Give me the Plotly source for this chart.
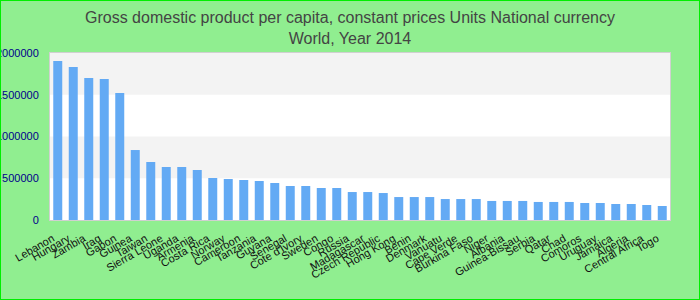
import plotly.graph_objects as go

countries = ["Lebanon", "Hungary", "Zambia", "Iraq", "Gabon", "Guinea", "Taiwan", "Sierra Leone",
             "Uganda", "Armenia", "Costa Rica", "Norway", "Cameroon", "Tanzania", "Guyana", "Senegal",
             "Cote d'Ivory", "Sweden", "Congo", "Russia", "Madagascar", "Czech Republic", "Hong Kong",
             "Benin", "Denmark", "Vanuatu", "Cape Verde", "Burkina Faso", "Niger", "Albania",
             "Guinea-Bissau", "Serbia", "Qatar", "Chad", "Comoros", "Uruguay", "Jamaica", "Algeria",
             "Central Africa", "Togo"]
values = [1904000, 1832000, 1701000, 1689000, 1521000, 838000, 695000, 635000,
          635000, 599000, 503000, 491000, 479000, 467000, 443000, 407000,
          407000, 383000, 383000, 335000, 335000, 323000, 275000,
          275000, 275000, 251000, 251000, 251000, 228000, 228000,
          228000, 216000, 216000, 216000, 204000, 204000, 192000, 192000,
          180000, 168000]
y_ticks = [0, 500000, 1000000, 1500000, 2000000]

W, H = 700, 300
ML, MR, MT, MB = 50, 30, 53, 80
pw, ph = W - ML - MR, H - MT - MB

fig = go.Figure(go.Bar(x=countries, y=values, marker_color="#63aaf4", marker_line_width=0))

shapes = []
for i in range(len(y_ticks) - 1):
    if i % 2 == 1:
        shapes.append(dict(type="rect", xref="paper", yref="y", x0=0, x1=1,
                           y0=y_ticks[i], y1=y_ticks[i + 1], fillcolor="#f3f3f3",
                           line_width=0, layer="below"))
# outer border
shapes.append(dict(type="rect", xref="paper", yref="paper",
                   x0=-ML / pw, x1=1 + MR / pw, y0=-MB / ph, y1=1 + MT / ph,
                   line=dict(color="#00ee00", width=2), fillcolor="rgba(0,0,0,0)", layer="above"))

fig.update_layout(
    width=W, height=H,
    margin=dict(l=ML, r=MR, t=MT, b=MB, autoexpand=False),
    paper_bgcolor="#90ee90", plot_bgcolor="#ffffff",
    font=dict(family="Arial, Liberation Sans, sans-serif"),
    title=dict(text="Gross domestic product per capita, constant prices Units National currency<br>World, Year 2014",
               x=0.5, xanchor="center", y=0.922, yanchor="top", yref="container",
               font=dict(size=16, color="#444444")),
    bargap=0.42,
    shapes=shapes,
    showlegend=False,
)
fig.update_xaxes(tickangle=-30, tickfont=dict(size=11, color="#111111"), showline=True,
                 linecolor="#d0d0d0", linewidth=1, mirror=True, ticks="", showgrid=False,
                 automargin=False, ticklabelstandoff=4,
                 tickvals=countries, ticktext=[c + "\u00a0\u00a0" for c in countries])
fig.update_yaxes(range=[0, 2000000], tickvals=y_ticks, ticktext=[str(v) for v in y_ticks],
                 tickfont=dict(size=11, color="#00008b"), showline=True, linecolor="#d0d0d0",
                 linewidth=1, mirror=True, showgrid=False, zeroline=False, ticks="",
                 automargin=False, ticklabelstandoff=8)

fig.write_html("out.html")
